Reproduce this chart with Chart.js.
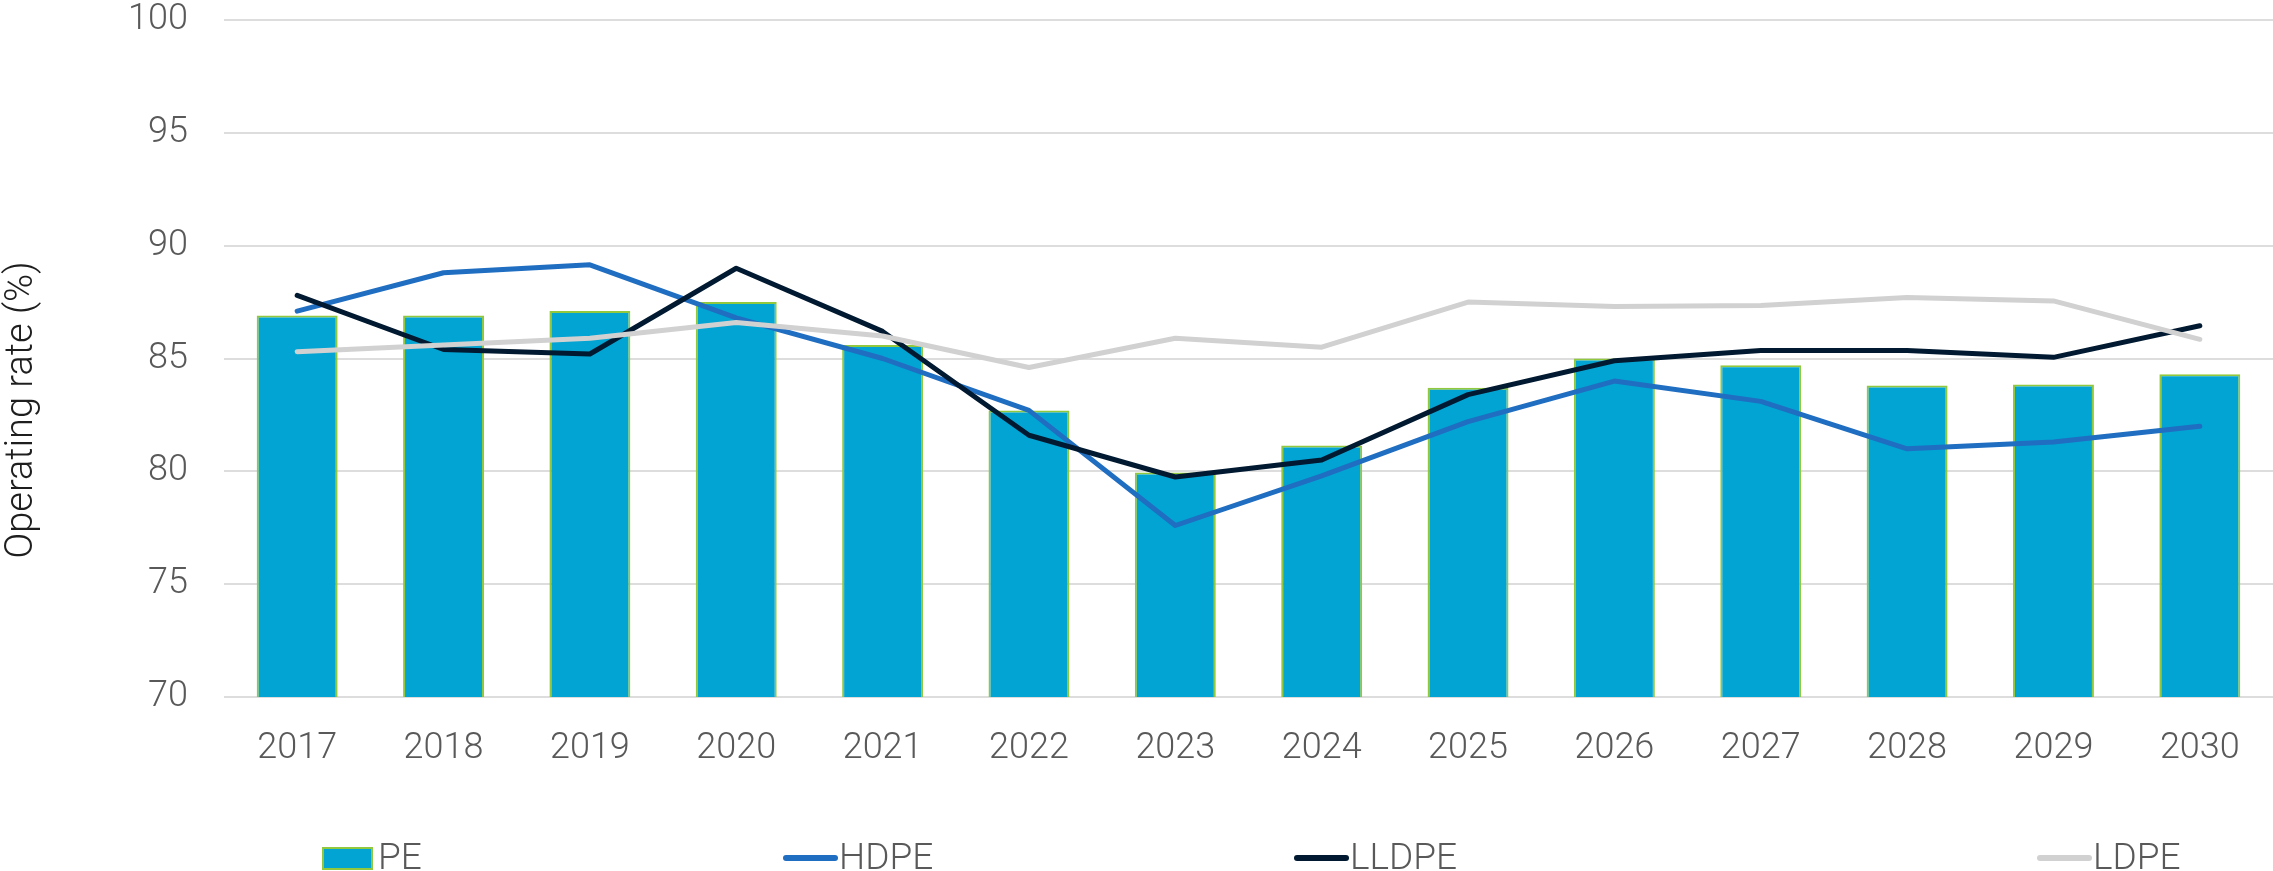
<!DOCTYPE html>
<html>
<head>
<meta charset="utf-8">
<title>Operating rate</title>
<script src="https://cdn.jsdelivr.net/npm/chart.js@4.4.1/dist/chart.umd.min.js"></script>
<style>
  html, body { margin: 0; padding: 0; background: #ffffff; }
  #wrap { width: 2273px; height: 871px; position: relative; }
</style>
</head>
<body>
<div id="wrap"><canvas id="rateChart"></canvas></div>
<script>
// Operating rates by year (%)
const years = ['2017', '2018', '2019', '2020', '2021', '2022', '2023', '2024', '2025', '2026', '2027', '2028', '2029', '2030'];
const pe    = [86.9, 86.9, 87.1, 87.5, 85.6, 82.7, 79.95, 81.15, 83.7, 85.0, 84.7, 83.8, 83.85, 84.3];
const hdpe  = [87.1, 88.8, 89.15, 86.8, 85.0, 82.7, 77.6, 79.8, 82.2, 84.0, 83.1, 81.0, 81.3, 82.0];
const lldpe = [87.8, 85.4, 85.2, 89.0, 86.2, 81.6, 79.75, 80.5, 83.4, 84.9, 85.35, 85.35, 85.05, 86.45];
const ldpe  = [85.3, 85.6, 85.9, 86.6, 86.0, 84.6, 85.9, 85.5, 87.5, 87.3, 87.35, 87.7, 87.55, 85.85];
const yTicks = [70, 75, 80, 85, 90, 95, 100];
const yTitle = 'Operating rate (%)';

const FONT = 'Roboto, "Noto Sans", sans-serif';
const TEXT_GREY = '#595959';

// legend entries sit at fixed x offsets along the bottom
const legendSpots = [322, 783, 1294, 2037];

// draws the rotated axis title and the bottom legend
const decorations = {
    id: 'decorations',
    afterDraw(chart) {
        const ctx = chart.ctx;
        ctx.save();

        ctx.translate(22, 410);
        ctx.rotate(-Math.PI / 2);
        ctx.font = '300 38px ' + FONT;
        ctx.fillStyle = '#1E1E1E';
        ctx.textAlign = 'center';
        ctx.textBaseline = 'middle';
        ctx.fillText(yTitle, 0, 0);
        ctx.setTransform(1, 0, 0, 1, 0, 0);

        const y = 858;
        ctx.font = '300 37px ' + FONT;
        ctx.textBaseline = 'middle';
        ctx.textAlign = 'left';
        chart.data.datasets.forEach((ds, i) => {
            const x = legendSpots[i];
            if (ds.type === 'bar') {
                ctx.fillStyle = ds.backgroundColor;
                ctx.fillRect(x, y - 11, 51, 23);
                ctx.strokeStyle = ds.borderColor;
                ctx.lineWidth = 2;
                ctx.strokeRect(x + 1, y - 10, 49, 21);
            } else {
                ctx.strokeStyle = ds.borderColor;
                ctx.lineWidth = 6;
                ctx.lineCap = 'round';
                ctx.beginPath();
                ctx.moveTo(x + 3, y);
                ctx.lineTo(x + 52, y);
                ctx.stroke();
            }
            ctx.fillStyle = TEXT_GREY;
            ctx.fillText(ds.label, x + 56, y + 2);
        });
        ctx.restore();
    }
};

const lineStyle = (color) => ({
    type: 'line',
    borderColor: color,
    backgroundColor: color,
    borderWidth: 5,
    pointRadius: 0,
    tension: 0,
    borderCapStyle: 'round',
    borderJoinStyle: 'round',
    fill: false
});

new Chart(document.getElementById('rateChart'), {
    data: {
        labels: years,
        datasets: [
            {
                type: 'bar',
                label: 'PE',
                data: pe,
                backgroundColor: '#02A4D3',
                borderColor: '#92C83E',
                borderWidth: 2,
                borderSkipped: 'bottom',
                categoryPercentage: 1.0,
                barPercentage: 0.553,
                order: 4
            },
            { ...lineStyle('#1F6EC1'), label: 'HDPE', data: hdpe, order: 3 },
            { ...lineStyle('#011A31'), label: 'LLDPE', data: lldpe, order: 2 },
            { ...lineStyle('#D1D1D1'), label: 'LDPE', data: ldpe, order: 1 }
        ]
    },
    options: {
        responsive: true,
        maintainAspectRatio: false,
        animation: false,
        layout: { padding: { top: 0, right: 0, bottom: 104, left: 0 } },
        plugins: {
            legend: { display: false },
            tooltip: { enabled: false }
        },
        scales: {
            x: {
                afterFit: (axis) => { axis.height = 70; },
                grid: { display: false },
                border: { display: false },
                ticks: {
                    color: TEXT_GREY,
                    padding: 22,
                    maxRotation: 0,
                    font: { family: FONT, size: 36, weight: '300' }
                }
            },
            y: {
                min: 70,
                max: 100,
                afterBuildTicks: (axis) => { axis.ticks = yTicks.map(v => ({ value: v })); },
                afterFit: (axis) => {
                    axis.width = 224;
                    axis.paddingTop = 20;
                    axis.paddingBottom = 0;
                },
                grid: { color: '#DDDDDD', lineWidth: 2, drawTicks: false },
                border: { display: false },
                ticks: {
                    color: TEXT_GREY,
                    padding: 36,
                    font: { family: FONT, size: 36, weight: '300' }
                }
            }
        }
    },
    plugins: [decorations]
});
</script>
</body>
</html>
